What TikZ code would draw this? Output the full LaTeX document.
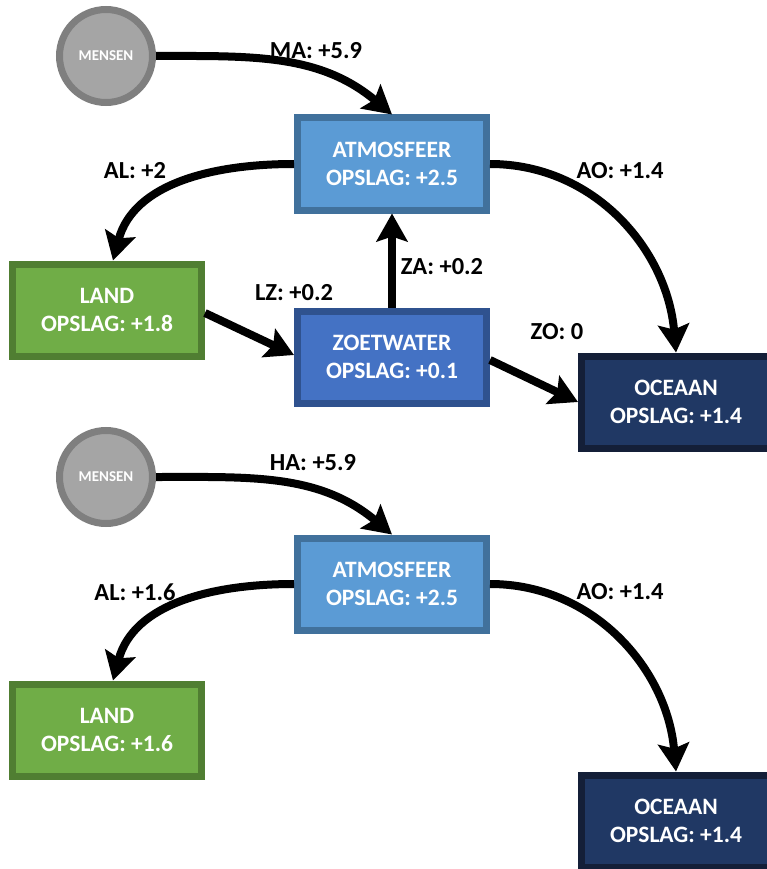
\documentclass[tikz,border=0pt]{standalone}
\usepackage{fontspec}
\setmainfont{Carlito}
\usetikzlibrary{arrows.meta}

\definecolor{atmfill}{HTML}{5B9BD5}
\definecolor{atmline}{HTML}{41719C}
\definecolor{landfill}{HTML}{70AD47}
\definecolor{landline}{HTML}{507E32}
\definecolor{zoefill}{HTML}{4472C4}
\definecolor{zoeline}{HTML}{2F528F}
\definecolor{ocefill}{HTML}{203864}
\definecolor{oceline}{HTML}{141F38}
\definecolor{menfill}{HTML}{A5A5A5}
\definecolor{menline}{HTML}{7F7F7F}

\tikzset{
  store/.style={rectangle, line width=7pt, minimum width=189pt, minimum height=92pt,
    inner sep=0pt, align=center, text=white,
    font=\fontsize{23.5}{28.5}\selectfont\bfseries},
  atmbox/.style={store, draw=atmline, fill=atmfill},
  landbox/.style={store, draw=landline, fill=landfill},
  zoebox/.style={store, draw=zoeline, fill=zoefill},
  ocebox/.style={store, draw=oceline, fill=ocefill},
  people/.style={circle, line width=7pt, draw=menline, fill=menfill,
    minimum size=93pt, inner sep=0pt, text=white,
    font=\fontsize{15}{16}\selectfont\bfseries},
  flow/.style={line width=8pt, -{Stealth[length=28pt, width=31pt, inset=5pt]}},
  flowlabel/.style={font=\fontsize{24.5}{26}\selectfont\bfseries, text=black, inner sep=0pt}
}

\begin{document}
\begin{tikzpicture}[x=1pt, y=1pt]
  \useasboundingbox (0,0) rectangle (767,-869);
  \clip (0,0) rectangle (767,-869);

  % upper scheme
  \node[people] (men1) at (106,-56) {MENSEN};
  \node[atmbox] (atm1) at (392,-164) {ATMOSFEER\\OPSLAG: +2.5};
  \node[landbox] (land1) at (107,-310) {LAND\\OPSLAG: +1.8};
  \node[zoebox] (zoe1) at (392,-357) {ZOETWATER\\OPSLAG: +0.1};
  \node[ocebox] (oce1) at (676,-402) {OCEAAN\\OPSLAG: +1.4};

  \draw[flow] (men1.east) to[out=0, in=140] (atm1.north);
  \draw[flow] (atm1.west) to[out=180, in=75] ([xshift=6pt]land1.north);
  \draw[flow] (atm1.east) to[out=0, in=95] (oce1.north);
  \draw[flow] ([yshift=-3pt]land1.east) -- ([yshift=2pt]zoe1.west);
  \draw[flow] (zoe1.north) -- (atm1.south);
  \draw[flow] ([yshift=-3pt]zoe1.east) -- (oce1.west);

  \node[flowlabel] (lma) at (316,-51) {MA: +5.9};
  \node[flowlabel] (lal1) at (135,-171) {AL: +2};
  \node[flowlabel] (lao1) at (620,-171) {AO: +1.4};
  \node[flowlabel] (llz) at (294,-293) {LZ: +0.2};
  \node[flowlabel] (lza) at (442,-267) {ZA: +0.2};
  \node[flowlabel] (lzo) at (557,-332) {ZO: 0};

  % lower scheme
  \node[people] (men2) at (106,-477) {MENSEN};
  \node[atmbox] (atm2) at (392,-584) {ATMOSFEER\\OPSLAG: +2.5};
  \node[landbox] (land2) at (107,-730) {LAND\\OPSLAG: +1.6};
  \node[ocebox] (oce2) at (676,-821) {OCEAAN\\OPSLAG: +1.4};

  \draw[flow] (men2.east) to[out=0, in=140] (atm2.north);
  \draw[flow] (atm2.west) to[out=180, in=75] ([xshift=6pt]land2.north);
  \draw[flow] (atm2.east) to[out=0, in=95] (oce2.north);

  \node[flowlabel] (lha) at (313,-463) {HA: +5.9};
  \node[flowlabel] (lal2) at (135,-592) {AL: +1.6};
  \node[flowlabel] (lao2) at (620,-592) {AO: +1.4};
\end{tikzpicture}
\end{document}
